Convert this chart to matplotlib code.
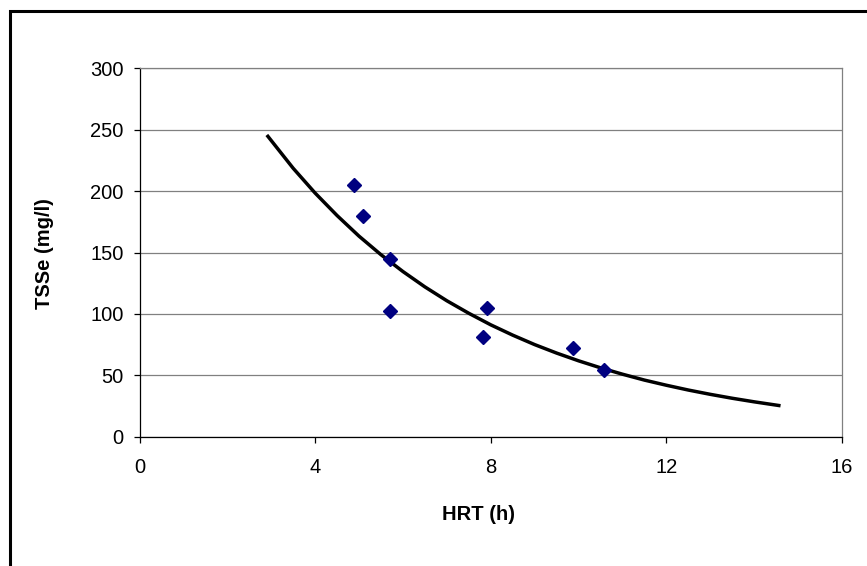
import matplotlib
matplotlib.use("Agg")
import matplotlib.pyplot as plt
from matplotlib.patches import Rectangle

# Observed data points
hrt_obs = [4.89, 5.08, 5.71, 5.71, 7.91, 7.82, 9.88, 10.59]
tss_obs = [205, 180, 145, 102, 105, 81, 72, 54]

# Trend line
hrt_fit = [2.9, 3.5, 4.0, 4.5, 5.0, 5.5, 6.0, 6.5, 7.0, 7.5, 8.0, 8.5, 9.0,
           9.5, 10.0, 10.5, 11.0, 11.5, 12.0, 12.5, 13.0, 13.5, 14.0, 14.6]
tss_fit = [245.7, 218.6, 198.4, 180.1, 163.3, 148.2, 134.5, 122.0, 110.7, 100.5,
           91.1, 82.7, 75.0, 68.1, 61.8, 56.1, 50.9, 46.1, 41.9, 38.0, 34.5,
           31.3, 28.4, 25.2]

x_ticks = [0, 4, 8, 12, 16]
y_ticks = [0, 50, 100, 150, 200, 250, 300]

plt.rcParams['font.family'] = ['Liberation Sans', 'DejaVu Sans']

W, H = 867, 566
fig = plt.figure(figsize=(W / 100, H / 100), dpi=100)
fig.patch.set_facecolor('white')

# Outer chart frame (extends beyond right/bottom edges)
fig.patches.append(Rectangle((10 / W, -0.05), 1.1, 1 - 11 / H + 0.05,
                             transform=fig.transFigure, fill=False,
                             edgecolor='black', linewidth=2.2, zorder=0))

left, right = 139.5 / W, 842 / W
top, bottom = 1 - 68.3 / H, 1 - 436.7 / H
ax = fig.add_axes([left, bottom, right - left, top - bottom])

ax.plot(hrt_fit, tss_fit, color='black', linewidth=2.5, zorder=3,
        solid_capstyle='butt')
ax.plot(hrt_obs, tss_obs, linestyle='none', marker='D', markersize=7.3,
        color='#000080', zorder=4)

ax.set_xlim(0, 16)
ax.set_ylim(0, 300)
ax.set_xticks(x_ticks)
ax.set_yticks(y_ticks)
ax.set_xticklabels([str(t) for t in x_ticks])
ax.set_yticklabels([str(t) for t in y_ticks])

ax.yaxis.grid(True, color='#808080', linewidth=0.9)
ax.set_axisbelow(True)

for s in ['top', 'right']:
    ax.spines[s].set_color('#808080')
    ax.spines[s].set_linewidth(0.9)
for s in ['left', 'bottom']:
    ax.spines[s].set_color('black')
    ax.spines[s].set_linewidth(0.9)

ax.tick_params(axis='both', direction='out', length=4.5, width=0.9,
               color='black', labelsize=14.5, labelcolor='black')
ax.tick_params(axis='y', pad=7)
ax.tick_params(axis='x', pad=11)

fig.text(479 / W, 1 - 515 / H, 'HRT (h)', ha='center', va='center',
         fontsize=14.5, fontweight='bold')
fig.text(45 / W, 1 - 254 / H, 'TSSe (mg/l)', ha='center', va='center',
         rotation=90, fontsize=14.5, fontweight='bold')

fig.savefig('out.png', dpi=100)
